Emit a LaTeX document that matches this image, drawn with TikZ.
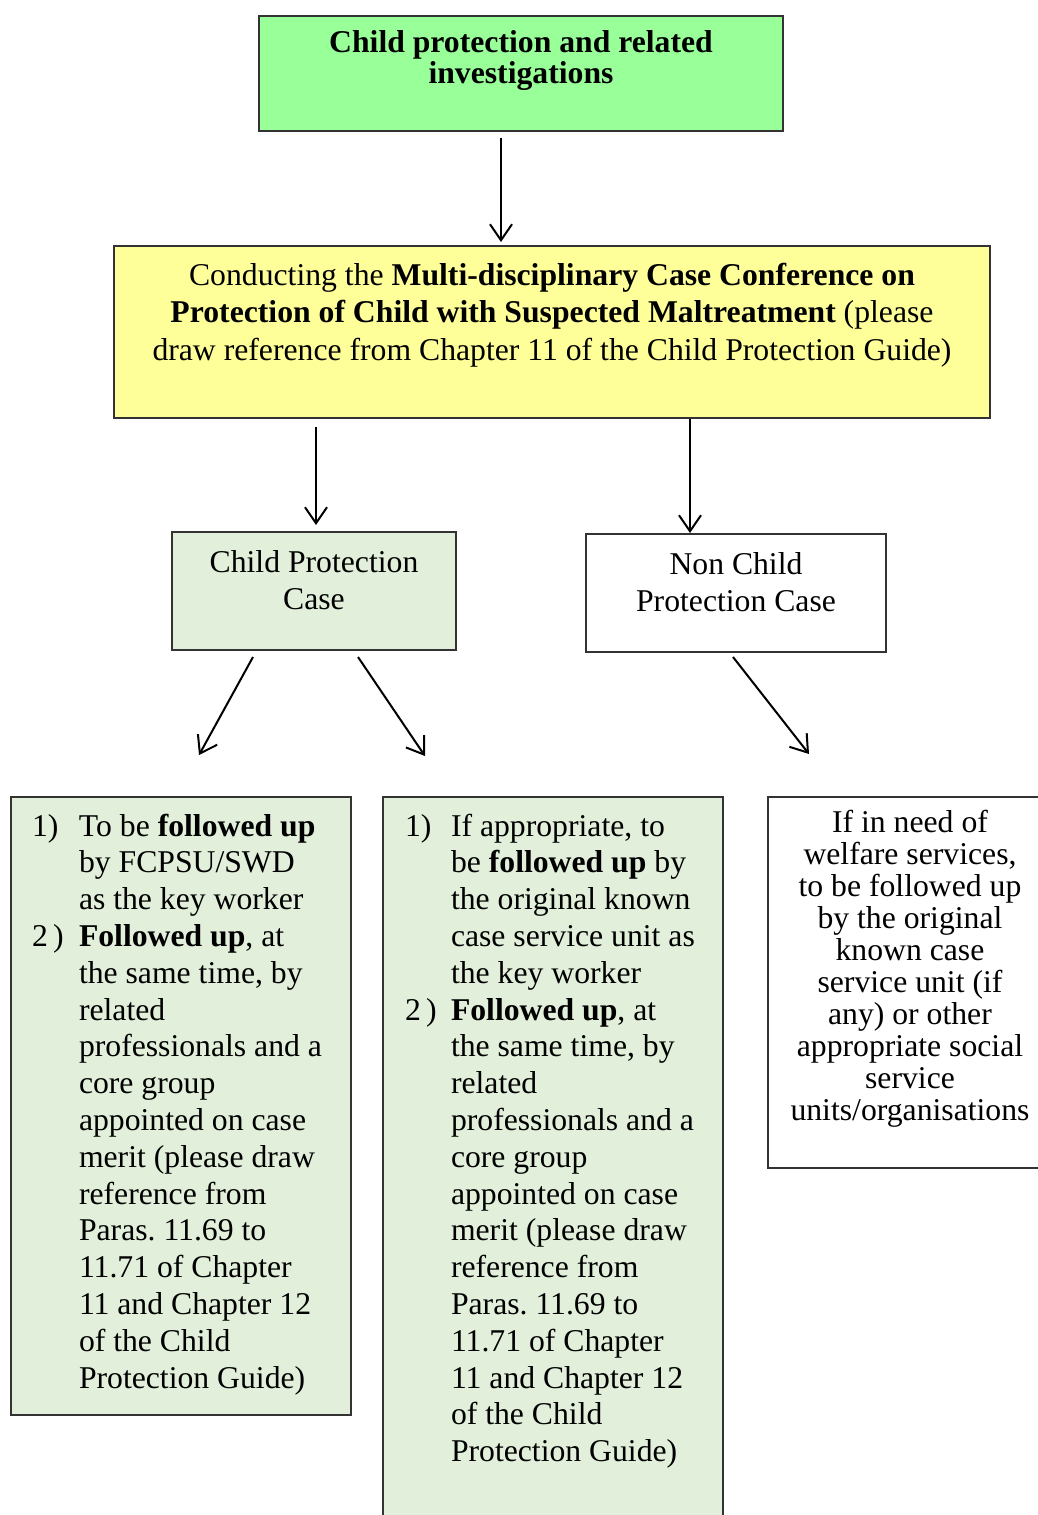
\documentclass[tikz,border=0pt]{standalone}
\usepackage{fontspec}
\setmainfont{Liberation Serif}
\usetikzlibrary{arrows.meta,calc}
\definecolor{topgreen}{HTML}{99FF99}
\definecolor{confyellow}{HTML}{FFFF99}
\definecolor{palegreen}{HTML}{E2EFDA}
\definecolor{edgegrey}{HTML}{333333}
\newcommand{\fsList}{\fontsize{31.7}{36.8}\selectfont}
\newcommand{\fsTight}{\fontsize{31.7}{32}\selectfont}
\newcommand{\fsConf}{\fontsize{31.7}{37.5}\selectfont}
\newcommand{\fsCase}{\fontsize{31.7}{37}\selectfont}
\newcommand{\numA}[1]{\makebox[47pt][l]{#1}}
\newcommand{\numB}[1]{\makebox[46pt][l]{#1}}
\frenchspacing
\begin{document}
\begin{tikzpicture}[x=1pt,y=-1pt,
  box/.style={draw=edgegrey, line width=1.5pt, inner sep=0pt, outer sep=0pt, anchor=north west},
  txt/.style={inner sep=0pt, outer sep=0pt, text=black},
  arr/.style={draw=black, line width=2pt, -{Straight Barb[length=16pt,width=22pt,line width=2pt]}}]
\useasboundingbox (0,0) rectangle (1038,1515);

% boxes
\node[box, fill=topgreen, minimum width=524pt, minimum height=115pt] (top) at (259,16) {};
\node[box, fill=confyellow, minimum width=876pt, minimum height=172pt] (conf) at (114,246) {};
\node[box, fill=palegreen, minimum width=284pt, minimum height=118pt] (cp) at (172,532) {};
\node[box, fill=white, minimum width=300pt, minimum height=118pt] (ncp) at (586,534) {};
\node[box, fill=palegreen, minimum width=340pt, minimum height=618pt] (boxL) at (11,797) {};
\node[box, fill=palegreen, minimum width=340pt, minimum height=740pt] (boxM) at (383,797) {};
\node[box, fill=white, minimum width=284pt, minimum height=371pt] (boxR) at (768,797) {};

% texts
\node[txt, anchor=base] (toptext) at (521,52) {\fsTight\begin{tabular}[t]{@{}c@{}}\textbf{Child protection and related}\\ \textbf{investigations}\end{tabular}};
\node[txt, anchor=base] (conftext) at (552,285) {\fsConf\begin{tabular}[t]{@{}c@{}}Conducting the \textbf{Multi-disciplinary Case Conference on}\\ \textbf{Protection of Child with Suspected Maltreatment} (please\\ draw reference from Chapter 11 of the Child Protection Guide)\end{tabular}};
\node[txt, anchor=base] (cptext) at (314,572) {\fsCase\begin{tabular}[t]{@{}c@{}}Child Protection\\ Case\end{tabular}};
\node[txt, anchor=base] (ncptext) at (736,574) {\fsCase\begin{tabular}[t]{@{}c@{}}Non Child\\ Protection Case\end{tabular}};
\node[txt, anchor=base west] (ltext) at (32,836) {\fsList\begin{tabular}[t]{@{}l@{}l@{}}
\numA{1)} & To be \textbf{followed up}\\
 & by FCPSU/SWD\\
 & as the key worker\\
\numA{2\,)} & \textbf{Followed up}, at\\
 & the same time, by\\
 & related\\
 & professionals and a\\
 & core group\\
 & appointed on case\\
 & merit (please draw\\
 & reference from\\
 & Paras. 11.69 to\\
 & 11.71 of Chapter\\
 & 11 and Chapter 12\\
 & of the Child\\
 & Protection Guide)
\end{tabular}};
\node[txt, anchor=base west] (mtext) at (405,836) {\fsList\begin{tabular}[t]{@{}l@{}l@{}}
\numB{1)} & If appropriate, to\\
 & be \textbf{followed up} by\\
 & the original known\\
 & case service unit as\\
 & the key worker\\
\numB{2\,)} & \textbf{Followed up}, at\\
 & the same time, by\\
 & related\\
 & professionals and a\\
 & core group\\
 & appointed on case\\
 & merit (please draw\\
 & reference from\\
 & Paras. 11.69 to\\
 & 11.71 of Chapter\\
 & 11 and Chapter 12\\
 & of the Child\\
 & Protection Guide)
\end{tabular}};
\node[txt, anchor=base] (rtext) at (910,832) {\fsTight\begin{tabular}[t]{@{}c@{}}If in need of\\ welfare services,\\ to be followed up\\ by the original\\ known case\\ service unit (if\\ any) or other\\ appropriate social\\ service\\ units/organisations\end{tabular}};

% connectors
\draw[arr] ($(top.south)+(-20,7)$) -- ($(conf.north)+(-51,-4)$);
\draw[arr] ($(conf.south)+(-236,9)$) -- ($(cp.north)+(2,-7)$);
\draw[arr] ($(conf.south)+(138,1)$) -- ($(ncp.north)+(-46,-1)$);
\draw[arr] ($(cp.south)+(-61,7)$) -- ($(boxL.north)+(18,-42)$);
\draw[arr] ($(cp.south)+(44,7)$) -- ($(boxM.north)+(-128,-41)$);
\draw[arr] ($(ncp.south)+(-3,5)$) -- ($(boxR.north)+(-101,-43)$);
\end{tikzpicture}
\end{document}
